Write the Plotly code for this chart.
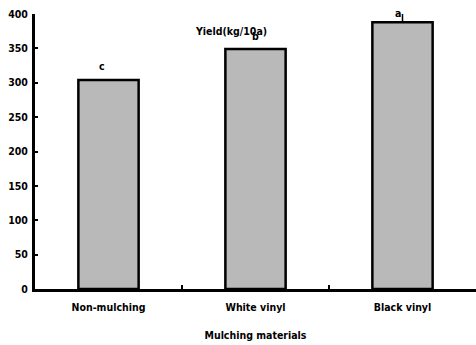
import plotly.graph_objects as go

categories = ["Non-mulching", "White vinyl", "Black vinyl"]
yield_values = [304, 349, 388]
error_values = [0, 0, 15]
letters = ["c", "b", "a"]
y_ticks = [0, 50, 100, 150, 200, 250, 300, 350, 400]

FONT = "DejaVu Sans Condensed, Liberation Sans Narrow, Arial Narrow, sans-serif"
FS = 10.5

fig = go.Figure()
fig.add_trace(go.Bar(
    x=categories, y=yield_values, width=0.41,
    marker=dict(color="#b9b9b9", line=dict(color="black", width=2.5)),
    error_y=dict(type="data", array=error_values, symmetric=False, arrayminus=[0, 0, 0],
                 visible=True, color="black", thickness=1.5, width=2),
))

offsets = [-7, 0, -5]
yshift = [6, 5, 1]
for c, v, l, o, s in zip(categories, yield_values, letters, offsets, yshift):
    fig.add_annotation(x=c, y=v, text="<b>%s</b>" % l, showarrow=False, xshift=o,
                       yshift=s, yanchor="bottom", font=dict(size=FS, color="black", family=FONT))

fig.add_annotation(xref="paper", yref="paper", x=0.445, y=0.94, text="<b>Yield(kg/10a)</b>",
                   showarrow=False, xanchor="center", yanchor="middle",
                   font=dict(size=FS, color="black", family=FONT))

fig.update_layout(
    width=476, height=345,
    margin=dict(l=35, r=0, t=14, b=56),
    plot_bgcolor="white", paper_bgcolor="white",
    showlegend=False,
    font=dict(family=FONT, size=FS, color="black"),
    xaxis=dict(
        type="category", range=[-0.5, 2.5], automargin=False,
        showline=True, linecolor="black", linewidth=3,
        ticks="inside", ticklen=4, tickwidth=2, tickcolor="black", tickson="boundaries",
        showgrid=False, zeroline=False, ticklabelstandoff=6,
        tickfont=dict(size=FS, family=FONT, weight="bold"),
        title=dict(text="<b>Mulching materials</b>", font=dict(size=FS, family=FONT), standoff=21),
    ),
    yaxis=dict(
        range=[0, 400], tickvals=y_ticks, automargin=False,
        showline=True, linecolor="black", linewidth=3,
        ticks="inside", ticklen=3, tickwidth=2, tickcolor="black",
        showgrid=False, zeroline=False, ticklabelstandoff=2,
        tickfont=dict(size=FS, family=FONT, weight="bold"),
    ),
)

fig.write_html("out.html", config={"displayModeBar": False},
               post_script="document.body.style.margin='0';document.body.style.overflow='hidden';")
